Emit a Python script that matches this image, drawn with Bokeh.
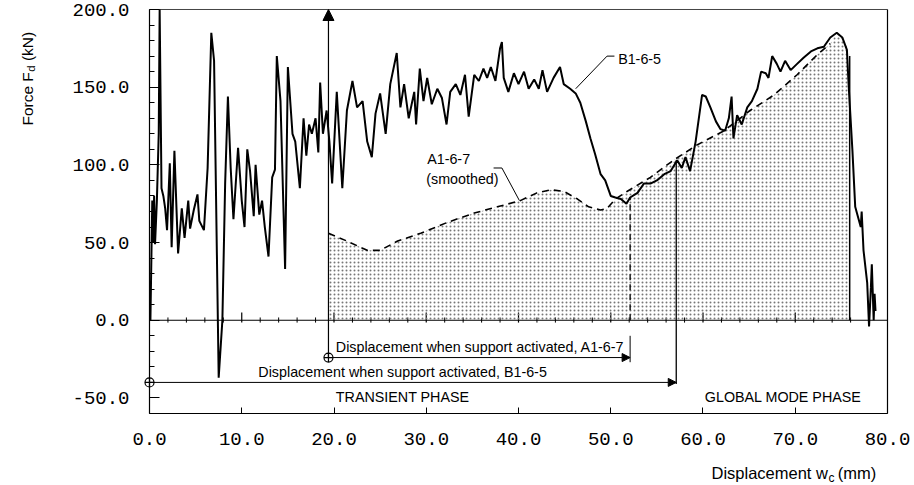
import numpy as np
from bokeh.plotting import figure
from bokeh.models import Range1d, Label, Arrow, NormalHead, FixedTicker, NumeralTickFormatter, LinearAxis
from bokeh.embed import file_html
from bokeh.resources import INLINE

# ---- data ----
b1_x = [0.1, 0.3, 0.4, 0.5, 0.6, 0.8, 1.0, 1.1, 1.3, 1.5, 1.7, 1.9, 2.2, 2.4, 2.7, 3.1, 3.5, 3.8, 4.2, 4.4,
        4.8, 5.2, 5.4, 5.9, 6.3, 6.7, 7.0, 7.5, 7.9, 8.2, 8.5, 8.8, 9.1, 9.6, 10.0, 10.3, 10.6, 10.9, 11.3,
        11.5, 11.9, 12.2, 12.5, 12.9, 13.3, 13.6, 13.8, 14.2, 14.7, 15.0, 15.5, 15.8, 16.3, 16.7, 17.0, 17.3,
        17.6, 18.0, 18.3, 18.5, 18.8, 19.2, 19.5, 19.8, 20.3, 20.9, 21.4, 22.0, 22.5, 23.1, 23.6, 24.1, 24.5,
        25.0, 25.6, 26.1, 26.8, 27.2, 27.6, 28.1, 28.7, 28.9, 29.3, 29.7, 30.1, 30.6, 31.2, 31.7, 32.2, 32.6,
        33.2, 33.7, 34.2, 34.6, 35.2, 35.7, 36.2, 36.6, 37.0, 37.5, 38.0, 38.2, 38.4, 38.9, 39.5, 40.0, 40.6,
        41.1, 41.7, 42.2, 42.6, 43.1, 43.8, 44.5, 44.9, 45.6, 46.2, 46.7, 47.3, 47.8, 48.3, 48.9, 49.4, 50.0,
        50.5, 51.1, 51.7, 52.1, 52.9, 53.6, 54.3, 55.0, 55.8, 56.5, 57.2, 57.7, 58.1, 58.6, 59.2, 59.9, 60.3,
        60.8, 61.4, 61.9, 62.4, 62.8, 63.1, 63.3, 63.7, 64.2, 64.8, 65.3, 65.9, 66.3, 66.8, 67.1, 67.5, 68.0,
        68.4, 68.9, 69.5, 70.2, 70.9, 71.7, 72.4, 73.1, 73.8, 74.5, 75.1, 75.6, 75.8, 76.2, 76.5, 77.1, 77.2,
        77.4, 77.8, 78.0, 78.2, 78.3, 78.5, 78.6, 78.7]
b1_y = [0, 77, 50, 80, 49, 77, 120, 200, 85, 80, 72, 58, 101, 47, 109, 43, 72, 53, 77, 59,
        71, 81, 64, 58, 98, 185, 167, -37, 0, 88, 144, 98, 65, 111, 77, 60, 110, 96, 67,
        100, 68, 77, 60, 41, 92, 97, 170, 141, 33, 163, 120, 115, 85, 130, 106, 126,
        120, 130, 108, 153, 120, 135, 115, 88, 147, 85, 135, 154, 137, 141, 115, 105, 133,
        146, 120, 152, 172, 137, 152, 130, 147, 126, 162, 141, 156, 139, 149, 143, 126, 147,
        152, 145, 158, 131, 158, 154, 162, 156, 163, 154, 175, 179, 156, 147, 159, 152, 160,
        149, 155, 149, 161, 147, 156, 163, 152, 149, 146, 140, 128, 117, 107, 94, 90, 80,
        79, 78, 75, 79, 82, 88, 88, 90, 94, 96, 103, 98, 105, 96, 115, 145, 144,
        137, 128, 123, 122, 130, 144, 117, 132, 126, 137, 141, 149, 160, 159, 156, 170, 165,
        160, 167, 161, 165, 169, 173, 175, 176, 182, 185, 182, 174, 150, 109, 73, 60, 70,
        45, 24, -4, 21, 36, 0, 17, 6]

a1_x = [19.4, 21.4, 23.6, 25.0, 26.9, 29.4, 32.3, 35.2, 37.7, 40.2, 42.0, 43.5, 44.9, 46.4, 47.6,
        48.9, 49.6, 50.5, 51.8, 54.3, 56.8, 59.4, 62.3, 65.1, 67.7, 70.2, 72.4, 73.8]
a1_y = [56, 51, 45, 45, 51, 56, 63, 69, 73, 77, 82, 84, 83, 78, 73,
        71, 72, 78, 83, 92, 103, 113, 122, 135, 145, 158, 171, 178]
# top of the shaded area beyond the dashed curve (follows the B1-6-5 peak)
peak_x = [74.5, 75.1, 75.6, 75.9]
peak_y = [185, 182, 176, 170]

x_ticks = [0, 10, 20, 30, 40, 50, 60, 70, 80]
y_ticks = [-50, 0, 50, 100, 150, 200]
y_minor = list(range(-60, 201, 10))
x_lim = (0, 80)
y_lim = (-60, 200)

a1_support = 52.1   # displacement when support activated, A1-6-7
b1_support = 57.1   # displacement when support activated, B1-6-5
a1_start = 19.4

FONT = "Liberation Sans"
MONO = "Liberation Mono"

# the frame fills the canvas, the axes are pinned at data locations
p = figure(width=914, height=485, x_range=Range1d(-16.152, 82.927), y_range=Range1d(-106.34, 205.79),
           output_backend="svg", toolbar_location=None, x_axis_location=None, y_axis_location=None,
           min_border=0)
p.grid.visible = False
p.outline_line_color = None
p.background_fill_color = "white"
p.border_fill_color = "white"

yax = LinearAxis(fixed_location=x_lim[0], bounds=y_lim,
                 ticker=FixedTicker(ticks=y_ticks, minor_ticks=y_minor),
                 formatter=NumeralTickFormatter(format="0.0"),
                 major_tick_in=10, major_tick_out=0, minor_tick_in=5, minor_tick_out=0,
                 major_label_standoff=20)
xax = LinearAxis(fixed_location=y_lim[0], bounds=x_lim,
                 ticker=FixedTicker(ticks=x_ticks, minor_ticks=[]),
                 formatter=NumeralTickFormatter(format="0.0"),
                 major_tick_in=6, major_tick_out=0, major_label_standoff=20)
for ax in (xax, yax):
    ax.major_label_text_font = MONO
    ax.major_label_text_font_size = "19px"
    ax.major_label_text_color = "black"
    ax.axis_line_color = "black"
    ax.axis_line_width = 1.2
    ax.major_tick_line_color = "black"
    ax.minor_tick_line_color = "black"
p.add_layout(yax, "left")
p.add_layout(xax, "below")

# top and right borders of the box
p.line([x_lim[0], x_lim[1]], [y_lim[1], y_lim[1]], line_color="#444444", line_width=1)
p.line([x_lim[1], x_lim[1]], [y_lim[0], y_lim[1]], line_color="black", line_width=1.2)

# inner zero axis with ticks
p.line([x_lim[0], x_lim[1]], [0, 0], line_color="black", line_width=1.2)
minor = [float(v) for v in np.arange(2, 80, 2) if v % 10 != 0]
major = [float(v) for v in x_ticks[1:-1]]
p.segment(x0=minor, y0=-1.5, x1=minor, y1=1.8, line_color="black", line_width=1)
p.segment(x0=major, y0=-1.5, x1=major, y1=5, line_color="black", line_width=1.2)

# shaded area (A1-6-7)
fill_x = a1_x + peak_x
fill_y = a1_y + peak_y
p.varea(x=fill_x, y1=0, y2=fill_y, fill_alpha=0, hatch_pattern="dot", hatch_scale=4,
        hatch_color="#777777", hatch_weight=1)
p.segment(x0=[fill_x[-1]], y0=[0], x1=[fill_x[-1]], y1=[fill_y[-1]], line_color="black", line_width=1.5)

# curves
p.line(b1_x, b1_y, line_color="black", line_width=2)
p.line(a1_x, a1_y, line_color="black", line_width=1.6, line_dash="7 5")

# support activation markers
p.segment(x0=[a1_support], y0=[0], x1=[a1_support], y1=[79], line_color="black", line_width=1.3, line_dash="6 4")
p.segment(x0=[a1_support], y0=[-10], x1=[a1_support], y1=[-27], line_color="black", line_width=1)
p.segment(x0=[b1_support], y0=[-41], x1=[b1_support], y1=[103], line_color="black", line_width=1.3)

p.add_layout(Arrow(end=NormalHead(size=11, fill_color="black", line_color="black"),
                   x_start=a1_start, y_start=-24, x_end=a1_start, y_end=y_lim[1], line_width=1.2))
p.add_layout(Arrow(end=NormalHead(size=8, fill_color="black", line_color="black"),
                   x_start=a1_start, y_start=-24, x_end=a1_support, y_end=-24, line_width=1))
p.add_layout(Arrow(end=NormalHead(size=8, fill_color="black", line_color="black"),
                   x_start=0, y_start=-40, x_end=b1_support, y_end=-40, line_width=1))
p.scatter([a1_start, 0], [-24, -40], marker="circle_cross", size=9, fill_color="white",
          line_color="black", line_width=1.2)

# leader lines
p.line([46.2, 49.6, 50.4], [149, 170, 170], line_color="black", line_width=1)
p.line([37.3, 38.2, 40.1], [98, 98, 77], line_color="black", line_width=1)


def lab(x, y, t, size="14.3px", align="left", base="middle", angle=0, font=FONT):
    p.add_layout(Label(x=x, y=y, text=t, text_font=font, text_font_size=size,
                       text_align=align, text_baseline=base, angle=angle, text_color="black"))


lab(50.8, 168, "B1-6-5")
lab(30.1, 104, "A1-6-7")
lab(30.0, 91, "(smoothed)")
lab(20.2, -17, "Displacement when support activated, A1-6-7")
lab(11.8, -33, "Displacement when support activated, B1-6-5")
lab(20.2, -49.5, "TRANSIENT PHASE")
lab(60.2, -49.5, "GLOBAL MODE PHASE")

# axis titles with subscripts
lab(60.92, -98.4, "Displacement w", size="16.5px", base="alphabetic")
lab(73.6, -101.6, "c", size="12px", base="alphabetic")
lab(74.6, -98.4, "(mm)", size="16.5px", base="alphabetic")
lab(-13.22, 125.3, "Force F", size="15.5px", base="alphabetic", angle=np.pi / 2)
lab(-12.8, 160.0, "d", size="11.5px", base="alphabetic", angle=np.pi / 2)
lab(-13.22, 166.8, "(kN)", size="15.5px", base="alphabetic", angle=np.pi / 2)

open("out.html", "w").write(file_html(p, INLINE))
